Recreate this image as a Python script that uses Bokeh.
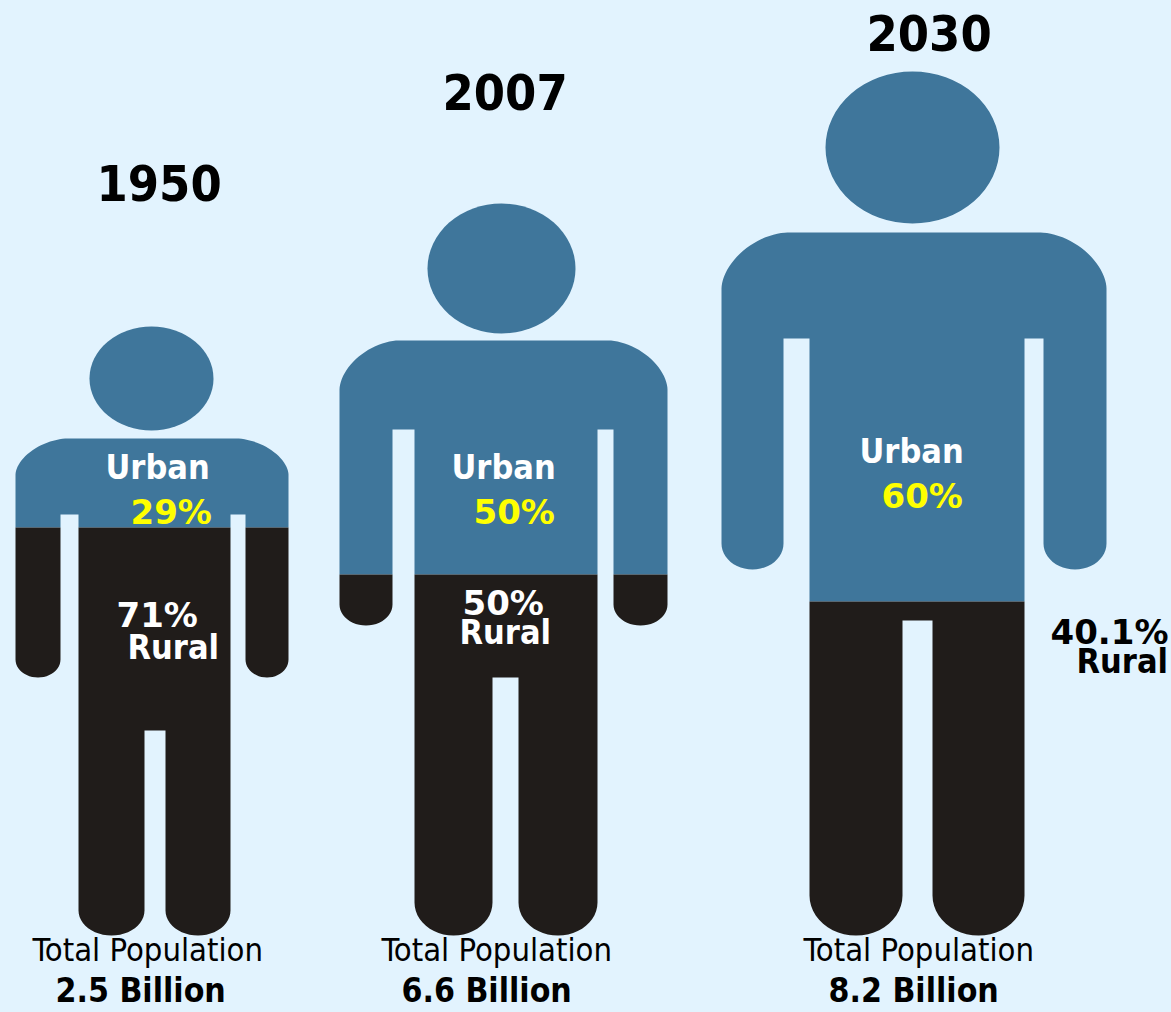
import math
from bokeh.core.properties import value
from bokeh.embed import file_html
from bokeh.models import Range1d
from bokeh.plotting import figure
from bokeh.resources import INLINE

# ---- data ----
years = ["1950", "2007", "2030"]
urban_pct = [29, 50, 60]
rural_pct = ["71%", "50%", "40.1%"]
population = ["2.5 Billion", "6.6 Billion", "8.2 Billion"]
urban_height_share = [0.330, 0.506, 0.613]   # share of figure height painted as urban

# ---- layout (reference pixels) ----
FIG = [
    dict(head=(151, 378, 62, 52), top=326, body_top=438, left=15, right=288, shoulder=(52, 36),
         arm_l=60, torso_l=78, torso_r=230, arm_r=245, gap_top=514, arm_bot=677, arm_ry=18,
         crotch_l=144, crotch_r=165, crotch_top=730, bottom=935, leg_ry=25),
    dict(head=(501, 268, 74, 65), top=204, body_top=340, left=339, right=667, shoulder=(59, 49),
         arm_l=392, torso_l=414, torso_r=597, arm_r=613, gap_top=429, arm_bot=625, arm_ry=21,
         crotch_l=492, crotch_r=518, crotch_top=677, bottom=935, leg_ry=33),
    dict(head=(912, 147, 87, 76), top=72, body_top=232, left=721, right=1106, shoulder=(66, 56),
         arm_l=783, torso_l=809, torso_r=1024, arm_r=1043, gap_top=338, arm_bot=569, arm_ry=26,
         crotch_l=902, crotch_r=932, crotch_top=620, bottom=935, leg_ry=40),
]
LABELS = [
    dict(year=(96, 201), urban=(105, 479), upct=(130, 524), rpct=(116, 627), rural=(127, 659),
         total=(32, 962), pop=(55, 1003), rcolor="white"),
    dict(year=(442, 110), urban=(451, 479), upct=(473, 524), rpct=(462, 615), rural=(459, 644),
         total=(381, 962), pop=(401, 1003), rcolor="white"),
    dict(year=(866, 51), urban=(859, 463), upct=(881, 508), rpct=(1050, 644), rural=(1076, 673),
         total=(803, 962), pop=(828, 1003), rcolor="black"),
]
BG, URBAN, RURAL = "#e2f3fe", "#3f769b", "#201c1a"
FONT = "DejaVu Sans Condensed"
FONT_WIDE = "DejaVu Sans"
BASELINE_SHIFT = 0.38   # the SVG text sits this many em below the requested baseline


def arc(cx, cy, rx, ry, a0, a1, n=24, power=2.0):
    out = []
    for i in range(n + 1):
        a = math.radians(a0 + (a1 - a0) * i / n)
        c, s = math.cos(a), math.sin(a)
        out.append((cx + rx * math.copysign(abs(c) ** (2 / power), c),
                    cy + ry * math.copysign(abs(s) ** (2 / power), s)))
    return out


def body(g):
    """Outline of a standing figure, clockwise on screen (y grows downward)."""
    L, R, T, B = g["left"], g["right"], g["body_top"], g["bottom"]
    sx, sy = g["shoulder"]
    ab, ary = g["arm_bot"], g["arm_ry"]
    pts = []
    pts += arc(L + sx, T + sy, sx, sy, 180, 270, power=1.75)
    pts += arc(R - sx, T + sy, sx, sy, 270, 360, power=1.75)
    r_c = (R + g["arm_r"]) / 2
    r_r = (R - g["arm_r"]) / 2
    pts += arc(r_c, ab - ary, r_r, ary, 0, 180)
    pts += [(g["arm_r"], g["gap_top"]), (g["torso_r"], g["gap_top"])]
    leg_r = (g["torso_r"] - g["crotch_r"]) / 2
    pts += arc(g["crotch_r"] + leg_r, B - g["leg_ry"], leg_r, g["leg_ry"], 0, 180)
    pts += [(g["crotch_r"], g["crotch_top"]), (g["crotch_l"], g["crotch_top"])]
    leg_l = (g["crotch_l"] - g["torso_l"]) / 2
    pts += arc(g["torso_l"] + leg_l, B - g["leg_ry"], leg_l, g["leg_ry"], 0, 180)
    pts += [(g["torso_l"], g["gap_top"]), (g["arm_l"], g["gap_top"])]
    l_r = (g["arm_l"] - L) / 2
    pts += arc(L + l_r, ab - ary, l_r, ary, 0, 180)
    return pts


def clip(pts, y0, keep_above):
    inside = (lambda p: p[1] <= y0) if keep_above else (lambda p: p[1] >= y0)
    out = []
    for i, a in enumerate(pts):
        b = pts[(i + 1) % len(pts)]
        if inside(a):
            out.append(a)
        if inside(a) != inside(b):
            t = (y0 - a[1]) / (b[1] - a[1])
            out.append((a[0] + t * (b[0] - a[0]), y0))
    return out


p = figure(width=1171, height=1012, output_backend="svg", toolbar_location=None,
           x_range=Range1d(0, 1171), y_range=Range1d(1012, 0),
           background_fill_color=BG, border_fill_color=BG,
           min_border=0, outline_line_color=None, x_axis_location=None, y_axis_location=None)
p.grid.visible = False


def label(pos, txt, size, color="black", style="bold", font=FONT):
    p.text([pos[0]], [pos[1] - BASELINE_SHIFT * size], text=[txt], text_font=value(font),
           text_font_size=f"{size}px", text_font_style=style, text_color=color,
           text_align="left", text_baseline="alphabetic")


for i, g in enumerate(FIG):
    hx, hy, hrx, hry = g["head"]
    split = g["top"] + urban_height_share[i] * (g["bottom"] - g["top"])
    p.ellipse([hx], [hy], width=[2 * hrx], height=[2 * hry], fill_color=URBAN, line_color=None)
    outline = body(g)
    for keep, col in ((True, URBAN), (False, RURAL)):
        poly = clip(outline, split, keep)
        p.patch([q[0] for q in poly], [q[1] for q in poly], fill_color=col, line_color=None)

    t = LABELS[i]
    label(t["year"], years[i], 50)
    label(t["urban"], "Urban", 34, "white")
    label(t["upct"], f"{urban_pct[i]}%", 34, "#ffff00", font=FONT_WIDE)
    label(t["rpct"], rural_pct[i], 34, t["rcolor"], font=FONT_WIDE)
    label(t["rural"], "Rural", 34, t["rcolor"])
    label(t["total"], "Total Population", 32.5, "black", "normal")
    label(t["pop"], population[i], 33.5)

html = file_html(p, INLINE)
html = html.replace("<head>", f"<head><style>html,body{{background:{BG};}}</style>", 1)
open("out.html", "w").write(html)
